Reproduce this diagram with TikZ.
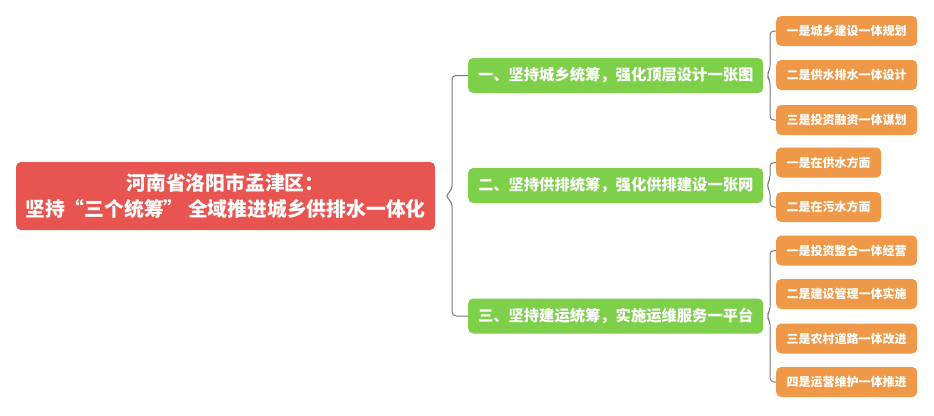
\documentclass[tikz,border=0pt]{standalone}
\usepackage{fontspec}
\setmainfont{Noto Sans CJK SC}
\definecolor{rootred}{HTML}{E85450}
\definecolor{lvgreen}{HTML}{7ED04B}
\definecolor{lvorange}{HTML}{EE9848}
\definecolor{linegray}{HTML}{7A7A7A}
\tikzset{
  rootbox/.style={fill=rootred, rounded corners=5pt, text=white, font=\fontsize{19.8}{26}\selectfont\bfseries, align=center, minimum width=419pt, minimum height=68pt, inner sep=0pt},
  greenbox/.style={fill=lvgreen, rounded corners=5pt, text=white, font=\fontsize{15.3}{18}\selectfont\bfseries, minimum width=295pt, minimum height=35pt, inner sep=0pt, anchor=west},
  orangebox/.style={fill=lvorange, rounded corners=5pt, text=white, font=\fontsize{12}{14}\selectfont\bfseries, minimum height=30pt, inner sep=0pt, anchor=west},
  widebox/.style={orangebox, minimum width=141pt},
  narrowbox/.style={orangebox, minimum width=105pt},
  bracket/.style={draw=linegray, line width=1pt, rounded corners=4pt}
}
\begin{document}
\begin{tikzpicture}[x=1pt, y=-1pt]
\useasboundingbox (0,0) rectangle (934,415);
\node[rootbox] (root) at (225.5,196) {河南省洛阳市孟津区：\\坚持“三个统筹” 全域推进城乡供排水一体化};

\node[greenbox] (g1) at (468,75.5) {一、坚持城乡统筹，强化顶层设计一张图};
\node[greenbox] (g2) at (468,185.5) {二、坚持供排统筹，强化供排建设一张网};
\node[greenbox] (g3) at (468,316) {三、坚持建运统筹，实施运维服务一平台};

\node[widebox] (a1) at (776,31) {一是城乡建设一体规划};
\node[widebox] (a2) at (776,75) {二是供水排水一体设计};
\node[widebox] (a3) at (776,120) {三是投资融资一体谋划};

\node[narrowbox] (b1) at (776,162.5) {一是在供水方面};
\node[narrowbox] (b2) at (776,207) {二是在污水方面};

\node[widebox] (c1) at (776,250.5) {一是投资整合一体经营};
\node[widebox] (c2) at (776,294) {二是建设管理一体实施};
\node[widebox] (c3) at (776,338.5) {三是农村道路一体改进};
\node[widebox] (c4) at (776,382) {四是运营维护一体推进};

% root brace
\coordinate (rt) at ([xshift=10pt]root.east);
\draw[bracket] (g1.west) -| (452,190) -- (rt) -- (452,202) |- (g3.west);
% group 1 brace
\coordinate (t1) at ([xshift=3pt]g1.east);
\draw[bracket] (a1.west) -| (770,70) -- (t1) -- (770,80) |- (a3.west);
% group 2 brace
\coordinate (t2) at ([xshift=3pt]g2.east);
\draw[bracket] (b1.west) -| (770,180) -- (t2) -- (770,191) |- (b2.west);
% group 3 brace
\coordinate (t3) at ([xshift=3pt]g3.east);
\draw[bracket] (c1.west) -| (770,311) -- (t3) -- (770,321) |- (c4.west);
\end{tikzpicture}
\end{document}
